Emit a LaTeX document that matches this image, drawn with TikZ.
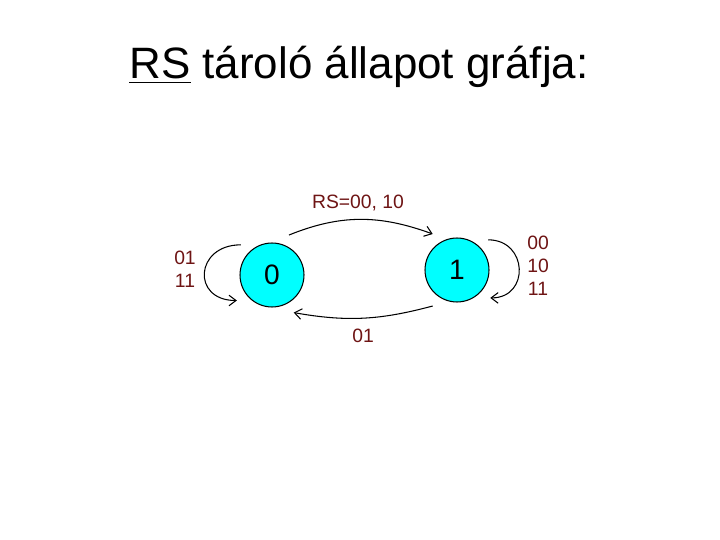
\documentclass[tikz,border=0pt]{standalone}
\usepackage{fontspec}
\setmainfont{Liberation Sans}
\usepackage{tikz}
\usetikzlibrary{arrows.meta}
\definecolor{statecyan}{RGB}{0,255,255}
\definecolor{labelred}{RGB}{110,20,20}

\begin{document}
\begin{tikzpicture}[x=0.02cm,y=-0.02cm,
  >={Straight Barb[length=4pt,width=6pt]},
  state/.style={circle,draw,line width=0.6pt,fill=statecyan,minimum size=1.28cm,
    inner sep=0pt,outer sep=6.5pt,font=\fontsize{16}{19}\selectfont},
  lbl/.style={text=labelred,inner sep=0pt,font=\fontsize{11}{13}\selectfont}]
  \useasboundingbox (0,0) rectangle (720,540);
  \node[anchor=base,font=\fontsize{25}{30}\selectfont] (title) at (359,79)
    {\underline{RS} tároló állapot gráfja:};
  \node[state] (s0) at (272,275) {0};
  \node[state] (s1) at (457,270) {1};
  % Transitions between the states
  \draw[->,line width=0.6pt] (s0.67) to[out=22,in=160] (s1.124);
  \draw[->,line width=0.6pt] (s1.236) to[out=195,in=350] (s0.300);
  \node[lbl] (l01) at (358,203) {RS=00, 10};
  \node[lbl] (l10) at (363,336) {01};
  % Self loops
  \draw[->,line width=0.6pt] (s0.136) to[out=180,in=180,looseness=2.1] (s0.216);
  \draw[->,line width=0.6pt] (s1.44) to[out=0,in=0,looseness=1.75] (s1.-40);
  \node[lbl] (l00a) at (185,258) {01};
  \node[lbl] (l00b) at (185,281) {11};
  \node[lbl] (l11a) at (538,243) {00};
  \node[lbl] (l11b) at (538,266) {10};
  \node[lbl] (l11c) at (538,289) {11};
\end{tikzpicture}
\end{document}
